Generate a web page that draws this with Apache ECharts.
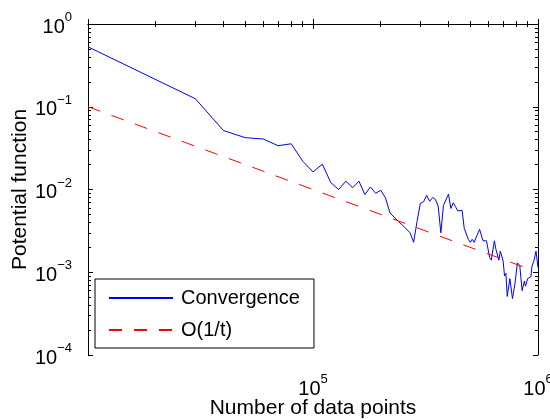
<!DOCTYPE html>
<html><head><meta charset="utf-8">
<script src="https://cdn.jsdelivr.net/npm/echarts@6/dist/echarts.min.js"></script>
<style>html,body{margin:0;padding:0;background:#fff}#c{width:550px;height:419px}</style>
</head><body><div id="c"></div>
<script>
// ---- data ----
const convX = [10000, 30000, 40000, 50000, 60000, 70000, 80000, 90000, 100000, 110000,
  120000, 130000, 140000, 150000, 160000, 170000, 180000, 190000, 200000, 210000,
  220000, 240000, 250000, 270000, 280000, 290000, 300000, 310000, 320000, 330000,
  340000, 350000, 360000, 370000, 380000, 400000, 410000, 420000, 430000, 440000,
  460000, 470000, 490000, 500000, 510000, 520000, 530000, 550000, 560000, 570000,
  590000, 600000, 610000, 620000, 640000, 650000, 670000, 680000, 700000, 710000,
  720000, 730000, 750000, 770000, 790000, 810000, 820000, 830000, 850000, 870000,
  880000, 900000, 930000, 940000, 960000, 980000, 1000000];
const convY = [0.530, 0.125, 0.0516, 0.0423, 0.0408, 0.0338, 0.0357, 0.0220, 0.0163, 0.0202,
  0.0121, 0.0100, 0.0126, 0.0105, 0.0126, 0.0087, 0.0107, 0.0090, 0.0098, 0.0079,
  0.0052, 0.0041, 0.0037, 0.0030, 0.0023, 0.0041, 0.0068, 0.0071, 0.0085, 0.0072,
  0.0080, 0.0076, 0.0063, 0.0030, 0.0064, 0.0088, 0.0059, 0.0069, 0.0062, 0.0055,
  0.0056, 0.0034, 0.0025, 0.0023, 0.0025, 0.0023, 0.0024, 0.0033, 0.0034, 0.0024,
  0.0024, 0.0024, 0.0015, 0.0014, 0.0024, 0.0019, 0.0014, 0.0018, 0.00136, 0.00090,
  0.00097, 0.00051, 0.00084, 0.00048, 0.00073, 0.0013, 0.00135, 0.0012, 0.00060, 0.00078,
  0.00068, 0.00084, 0.00088, 0.00118, 0.00139, 0.0018, 0.00114];
const refX = [10000, 900000];
const refY = [0.1, 0.00111];
const seriesNames = ['Convergence', 'O(1/t)'];
const xTitle = 'Number of data points';
const yTitle = 'Potential function';
const xRange = [1e4, 1e6];
const yRange = [1e-4, 1];
const hiddenXExponents = [4];
const minorMantissas = [2, 3, 4, 5, 6, 7, 8, 9];

// ---- helpers ----
const font = '"Liberation Sans", Arial, Helvetica, sans-serif';
function minorTicks(lo, hi) {
  const out = [];
  for (let e = lo; e < hi; e++) for (const m of minorMantissas) out.push(e + Math.log10(m));
  return out;
}
function expOf(v) { return Math.round(Math.log10(v)); }
function expLabel(v) { return '{b|10}{s|' + String(expOf(v)).replace('-', '\u2212') + '}'; }
const rich = {
  b: { fontFamily: font, fontSize: 20, lineHeight: 26, verticalAlign: 'bottom', color: '#000' },
  s: { fontFamily: font, fontSize: 13, lineHeight: 8, verticalAlign: 'top', color: '#000' }
};
const blk = { color: '#000', width: 1 };
const xl = [Math.log10(xRange[0]), Math.log10(xRange[1])];
const yl = [Math.log10(yRange[0]), Math.log10(yRange[1])];

function logAxis(range, pos, extra) {
  return Object.assign({
    type: 'log', logBase: 10, min: range[0], max: range[1], position: pos,
    axisLine: { show: true, lineStyle: blk },
    axisTick: { show: true, inside: true, length: 5, lineStyle: blk },
    axisLabel: { show: false },
    splitLine: { show: false }, minorTick: { show: false }
  }, extra || {});
}
function minorAxis(lrange, pos) {
  return {
    type: 'value', min: lrange[0], max: lrange[1], position: pos,
    axisLine: { show: false },
    axisTick: { show: true, inside: true, length: 3, lineStyle: blk, customValues: minorTicks(lrange[0], lrange[1]) },
    axisLabel: { show: false }, splitLine: { show: false }
  };
}

const chart = echarts.init(document.getElementById('c'), null, { renderer: 'canvas' });
chart.setOption({
  animation: false,
  backgroundColor: '#fff',
  grid: { left: 88, top: 24, right: 12, bottom: 64, containLabel: false, outerBoundsMode: 'none' },
  xAxis: [
    logAxis(xRange, 'bottom', {
      axisLabel: { show: true, margin: 18, rich: rich,
        formatter: v => hiddenXExponents.includes(expOf(v)) ? '' : expLabel(v) },
      name: xTitle, nameLocation: 'middle', nameGap: 43, nameMoveOverlap: false,
      nameTextStyle: { fontFamily: font, fontSize: 21, color: '#000' }
    }),
    minorAxis(xl, 'bottom'),
    logAxis(xRange, 'top'),
    minorAxis(xl, 'top')
  ],
  yAxis: [
    logAxis(yRange, 'left', {
      axisLabel: { show: true, margin: 16, rich: rich, formatter: v => expLabel(v) },
      name: yTitle, nameLocation: 'middle', nameGap: 57, nameMoveOverlap: false,
      nameTextStyle: { fontFamily: font, fontSize: 21, color: '#000' }
    }),
    minorAxis(yl, 'left'),
    logAxis(yRange, 'right'),
    minorAxis(yl, 'right')
  ],
  legend: {
    orient: 'vertical', left: 95, top: 279, padding: [9, 14, 8, 13],
    itemWidth: 64, itemHeight: 20, itemGap: 12,
    borderColor: '#000', borderWidth: 1, backgroundColor: '#fff', selectedMode: false,
    itemStyle: { opacity: 0 },
    textStyle: { fontFamily: font, fontSize: 20, color: '#000', padding: [0, 0, 0, 3] },
    data: seriesNames
  },
  series: [
    { type: 'line', name: seriesNames[0], xAxisIndex: 0, yAxisIndex: 0,
      data: convX.map((x, i) => [x, convY[i]]), symbol: 'none',
      lineStyle: { color: '#0000ff', width: 1 }, itemStyle: { color: '#0000ff' } },
    { type: 'line', name: seriesNames[1], xAxisIndex: 0, yAxisIndex: 0,
      data: refX.map((x, i) => [x, refY[i]]), symbol: 'none',
      lineStyle: { color: '#ff0000', width: 1, type: [13, 12] }, itemStyle: { color: '#ff0000' } }
  ]
});
</script></body></html>
